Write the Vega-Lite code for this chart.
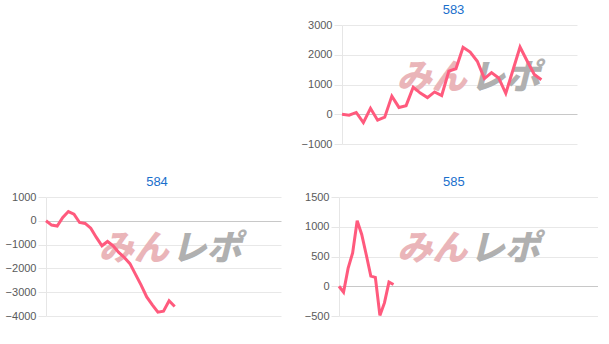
{
  "$schema": "https://vega.github.io/schema/vega-lite/v6.json",
  "padding": {"left": 0, "top": 4, "right": 0, "bottom": 0},
  "background": "white",
  "datasets": {
    "d583": [
      {"i":0,"v":0},{"i":1,"v":-30},{"i":2,"v":60},{"i":3,"v":-280},{"i":4,"v":200},{"i":5,"v":-200},{"i":6,"v":-100},{"i":7,"v":610},{"i":8,"v":230},{"i":9,"v":290},
      {"i":10,"v":910},{"i":11,"v":710},{"i":12,"v":560},{"i":13,"v":750},{"i":14,"v":630},{"i":15,"v":1450},{"i":16,"v":1530},{"i":17,"v":2250},{"i":18,"v":2090},{"i":19,"v":1780},
      {"i":20,"v":1200},{"i":21,"v":1400},{"i":22,"v":1220},{"i":23,"v":700},{"i":24,"v":1480},{"i":25,"v":2260},{"i":26,"v":1790},{"i":27,"v":1340},{"i":28,"v":1160}
    ],
    "d584": [
      {"i":0,"v":0},{"i":1,"v":-180},{"i":2,"v":-220},{"i":3,"v":140},{"i":4,"v":390},{"i":5,"v":280},{"i":6,"v":-70},{"i":7,"v":-110},{"i":8,"v":-310},{"i":9,"v":-700},
      {"i":10,"v":-1050},{"i":11,"v":-870},{"i":12,"v":-1050},{"i":13,"v":-1330},{"i":14,"v":-1540},{"i":15,"v":-1800},{"i":16,"v":-2250},{"i":17,"v":-2700},{"i":18,"v":-3200},{"i":19,"v":-3530},
      {"i":20,"v":-3840},{"i":21,"v":-3800},{"i":22,"v":-3360},{"i":23,"v":-3600}
    ],
    "d585": [
      {"i":0,"v":0},{"i":1,"v":-100},{"i":2,"v":300},{"i":3,"v":560},{"i":4,"v":1100},{"i":5,"v":870},{"i":6,"v":530},{"i":7,"v":170},{"i":8,"v":150},{"i":9,"v":-490},
      {"i":10,"v":-280},{"i":11,"v":70},{"i":12,"v":30}
    ],
    "wm": [
      {"p":"583","t":"みん","x":12.6,"y":1235},{"p":"583","t":"レポ","x":22.9,"y":1235},
      {"p":"584","t":"みん","x":15.7,"y":-1172},{"p":"584","t":"レポ","x":28.7,"y":-1172},
      {"p":"585","t":"みん","x":20.5,"y":626},{"p":"585","t":"レポ","x":36.5,"y":626}
    ],
    "blank": [{"k":1}]
  },
  "config": {
    "view": {"stroke": null},
    "font": "Liberation Sans",
    "title": {"font": "Liberation Sans", "fontSize": 13, "fontWeight": "normal", "color": "#1a6fcc", "baseline": "alphabetic", "offset": 2, "frame": "group", "anchor": "middle"},
    "axisY": {"labelFont": "Liberation Sans", "labelFontSize": 11, "labelColor": "#5a5a5a", "tickColor": "#e6e6e6", "tickSize": 8, "labelPadding": 2, "domainColor": "#e6e6e6", "title": null, "format": "d"}
  },
  "spacing": 27,
  "vconcat": [
    {
      "spacing": 0,
      "hconcat": [
        {"width": 254, "height": 10, "data": {"name": "blank"}, "mark": {"type": "point", "opacity": 0}, "encoding": {}},
        {
          "width": 235, "height": 119,
          "title": {"text": "583", "dx": -6},
          "layer": [
            {"data": {"name": "wm"}, "transform": [{"filter": "datum.p === '583'"}],
             "mark": {"type": "text", "font": "Noto Sans CJK JP", "fontWeight": 900, "fontStyle": "italic", "fontSize": 35, "baseline": "middle", "align": "center"},
             "encoding": {
               "x": {"field": "x", "type": "quantitative", "scale": {"domain": [0, 33]}, "axis": null},
               "y": {"field": "y", "type": "quantitative", "scale": {"domain": [-1000, 3000]}, "axis": {"values": [-1000,0,1000,2000,3000], "minExtent": 42, "maxExtent": 42, "gridColor": {"condition": {"test": "datum.value === 0", "value": "#c8c8c8"}, "value": "#e8e8e8"}}},
               "text": {"field": "t"},
               "color": {"field": "t", "type": "nominal", "scale": {"domain": ["みん","レポ"], "range": ["#eab5b9", "#b0b0b0"]}, "legend": null}
             }},
            {"data": {"name": "d583"},
             "mark": {"type": "line", "color": "#ff5a7d", "strokeWidth": 3},
             "encoding": {
               "x": {"field": "i", "type": "quantitative", "scale": {"domain": [0, 33]}, "axis": null},
               "y": {"field": "v", "type": "quantitative", "scale": {"domain": [-1000, 3000]}, "axis": {"values": [-1000,0,1000,2000,3000], "minExtent": 42, "maxExtent": 42, "gridColor": {"condition": {"test": "datum.value === 0", "value": "#c8c8c8"}, "value": "#e8e8e8"}}}
             }}
          ]
        }
      ]
    },
    {
      "spacing": 0,
      "hconcat": [
        {
          "width": 235, "height": 119,
          "title": {"text": "584", "dx": -6.5},
          "layer": [
            {"data": {"name": "wm"}, "transform": [{"filter": "datum.p === '584'"}],
             "mark": {"type": "text", "font": "Noto Sans CJK JP", "fontWeight": 900, "fontStyle": "italic", "fontSize": 35, "baseline": "middle", "align": "center"},
             "encoding": {
               "x": {"field": "x", "type": "quantitative", "scale": {"domain": [0, 42]}, "axis": null},
               "y": {"field": "y", "type": "quantitative", "scale": {"domain": [-4000, 1000]}, "axis": {"values": [-4000,-3000,-2000,-1000,0,1000], "minExtent": 46, "maxExtent": 46, "gridColor": {"condition": {"test": "datum.value === 0", "value": "#c8c8c8"}, "value": "#e8e8e8"}}},
               "text": {"field": "t"},
               "color": {"field": "t", "type": "nominal", "scale": {"domain": ["みん","レポ"], "range": ["#eab5b9", "#b0b0b0"]}, "legend": null}
             }},
            {"data": {"name": "d584"},
             "mark": {"type": "line", "color": "#ff5a7d", "strokeWidth": 3},
             "encoding": {
               "x": {"field": "i", "type": "quantitative", "scale": {"domain": [0, 42]}, "axis": null},
               "y": {"field": "v", "type": "quantitative", "scale": {"domain": [-4000, 1000]}, "axis": {"values": [-4000,-3000,-2000,-1000,0,1000], "minExtent": 46, "maxExtent": 46, "gridColor": {"condition": {"test": "datum.value === 0", "value": "#c8c8c8"}, "value": "#e8e8e8"}}}
             }}
          ]
        },
        {
          "width": 259, "height": 119,
          "title": {"text": "585", "dx": -14.7},
          "layer": [
            {"data": {"name": "wm"}, "transform": [{"filter": "datum.p === '585'"}],
             "mark": {"type": "text", "font": "Noto Sans CJK JP", "fontWeight": 900, "fontStyle": "italic", "fontSize": 35, "baseline": "middle", "align": "center"},
             "encoding": {
               "x": {"field": "x", "type": "quantitative", "scale": {"domain": [0, 57]}, "axis": null},
               "y": {"field": "y", "type": "quantitative", "scale": {"domain": [-500, 1500]}, "axis": {"values": [-500,0,500,1000,1500], "minExtent": 58, "maxExtent": 58, "gridColor": {"condition": {"test": "datum.value === 0", "value": "#c8c8c8"}, "value": "#e8e8e8"}}},
               "text": {"field": "t"},
               "color": {"field": "t", "type": "nominal", "scale": {"domain": ["みん","レポ"], "range": ["#eab5b9", "#b0b0b0"]}, "legend": null}
             }},
            {"data": {"name": "d585"},
             "mark": {"type": "line", "color": "#ff5a7d", "strokeWidth": 3},
             "encoding": {
               "x": {"field": "i", "type": "quantitative", "scale": {"domain": [0, 57]}, "axis": null},
               "y": {"field": "v", "type": "quantitative", "scale": {"domain": [-500, 1500]}, "axis": {"values": [-500,0,500,1000,1500], "minExtent": 58, "maxExtent": 58, "gridColor": {"condition": {"test": "datum.value === 0", "value": "#c8c8c8"}, "value": "#e8e8e8"}}}
             }}
          ]
        }
      ]
    }
  ]
}
